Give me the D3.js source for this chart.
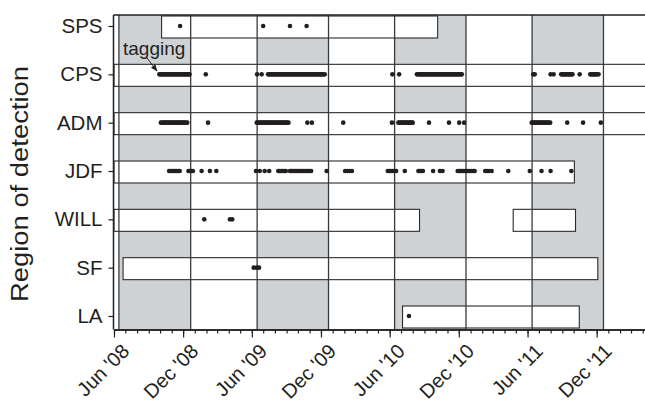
<!DOCTYPE html>
<html>
<head>
<meta charset="utf-8">
<script src="https://cdn.jsdelivr.net/npm/d3@7"></script>
<style>
body { margin: 0; background: #fff; }
svg text { font-family: "Liberation Sans", Arial, Helvetica, sans-serif; fill: #231f20; }
</style>
</head>
<body>
<svg width="645" height="403"></svg>
<script>
var regions = ["SPS", "CPS", "ADM", "JDF", "WILL", "SF", "LA"]

var xTickDates = ["2008-06-01", "2008-12-01", "2009-06-01", "2009-12-01",
    "2010-06-01", "2010-12-01", "2011-06-01", "2011-12-01"]
var xTickLabels = ["Jun '08", "Dec '08", "Jun '09", "Dec '09",
    "Jun '10", "Dec '10", "Jun '11", "Dec '11"]

// grey periods (Jun - Dec)
var shaded = [["2008-06-14", "2008-12-21"], ["2009-06-15", "2009-12-21"],
    ["2010-06-14", "2010-12-20"], ["2011-06-13", "2011-12-19"]]

// receiver coverage per region
var boxes = [
    ["SPS", "2008-10-05", "2010-10-06"],
    ["CPS", "2008-06-01", "2012-06-01"],
    ["ADM", "2008-06-01", "2012-06-01"],
    ["JDF", "2008-06-01", "2011-10-03"],
    ["WILL", "2008-06-01", "2010-08-19"],
    ["WILL", "2011-04-24", "2011-10-06"],
    ["SF", "2008-06-25", "2011-12-04"],
    ["LA", "2010-07-05", "2011-10-16"]
]

// detections: "year-month day day ..."
var detSPS = ["2008-11 23", "2009-07 1", "2009-09 10", "2009-10 24"]

var detCPS = ["2008-09 29", "2008-10 2 5 8 11 14 17 20 23 26 29",
    "2008-11 1 4 7 10 13 16 19 22 25 28", "2008-12 1 4 7 10 13 16 18",
    "2009-01 30",
    "2009-06 15 27", "2009-07 14 17 20 23 26 29",
    "2009-08 1 4 7 10 13 16 19 22 25 28 31", "2009-09 3 6 9 12 15 18 21 24 27 30",
    "2009-10 3 6 9 12 15 18 21 24 27 30", "2009-11 2 5 8 11 14 17 20 23 26 29",
    "2009-12 2 5 8 11",
    "2010-06 8 26", "2010-08 12 15 18 21 24 27 30",
    "2010-09 2 5 8 11 14 17 20 23 26 29", "2010-10 2 5 8 11 14 17 20 23 26 29",
    "2010-11 1 4 7 10 13 16 19 22 25 28", "2010-12 1 4 7 9",
    "2011-06 16 20", "2011-08 1 9 29", "2011-09 1 4 7 10 13 16 19 22 25 28",
    "2011-10 17", "2011-11 14 17 20 23 26 29", "2011-12 2 6"]

var detADM = ["2008-10 3 6 9 12 15 18 21 24 27 30",
    "2008-11 2 5 8 11 14 17 20 23 26 29", "2008-12 2 5 8 12",
    "2009-02 5",
    "2009-06 14 17 20 23 26 29", "2009-07 2 5 8 11 14 17 20 23 26 29",
    "2009-08 1 4 7 10 13 16 19 22 25 28 31", "2009-09 3 6",
    "2009-10 26", "2009-11 7", "2010-01 29",
    "2010-06 7 24 27 30", "2010-07 3 6 9 12 15 18 21 24 27 30", "2010-08 1",
    "2010-09 13", "2010-11 5", "2010-12 2 15",
    "2011-06 12 15 18 21 24 27 30", "2011-07 3 6 9 12 15 18 21 24 27 31",
    "2011-09 14", "2011-10 26", "2011-12 12"]

var detJDF = ["2008-10 25 29", "2008-11 2 6 10 14 18 22", "2008-12 15 19 23 27",
    "2009-01 19", "2009-02 10 27",
    "2009-06 12 22", "2009-07 5 17", "2009-08 10 14 18 22 26 30",
    "2009-09 10 14 18 22 26 30", "2009-10 4 8 12 16 20 24 28", "2009-11 1 5",
    "2009-12 16", "2010-02 3 9 15 21",
    "2010-05 27 31", "2010-06 4 9 14 18", "2010-07 11", "2010-08 16 20 24 28",
    "2010-09 24", "2010-10 12 19",
    "2010-11 28", "2010-12 2 6 10 14 18 22 26 30", "2011-01 4 8 12",
    "2011-02 9 14 19 26", "2011-04 11",
    "2011-06 7", "2011-07 8", "2011-08 1", "2011-09 25"]

var detWILL = ["2009-01 26", "2009-04 4 10"]
var detSF = ["2009-06 6 14 20"]
var detLA = ["2010-07 22"]

var detections = {SPS: detSPS, CPS: detCPS, ADM: detADM, JDF: detJDF,
    WILL: detWILL, SF: detSF, LA: detLA}

var parse = d3.timeParse("%Y-%m-%d")

// turn the month strings into [region, date] pairs
var dots = []
regions.forEach(function (r) {
    detections[r].forEach(function (s) {
        var parts = s.split(" ")
        parts.slice(1).forEach(function (day) {
            dots.push([r, parse(parts[0] + "-" + day)])
        })
    })
})

var x = d3.scaleTime().domain([parse("2008-06-01"), parse("2012-04-07")]).range([114, 645]),
    y = d3.scalePoint().domain(regions).range([26, 316])

// (not "top": that name is taken by window.top)
var yTop = 15, yBottom = 329.5, ink = "#231f20"

var svg = d3.select("svg")

// shaded periods
svg.selectAll("rect.shade").data(shaded).enter().append("rect")
    .attr("class", "shade")
    .attr("x", d => x(parse(d[0]))).attr("y", yTop)
    .attr("width", d => x(parse(d[1])) - x(parse(d[0])))
    .attr("height", yBottom - yTop)
    .attr("fill", "#cfd2d5")

// coverage boxes
svg.selectAll("rect.box").data(boxes).enter().append("rect")
    .attr("class", "box")
    .attr("x", d => x(parse(d[1]))).attr("y", d => y(d[0]) - 10)
    .attr("width", d => x(parse(d[2])) - x(parse(d[1])))
    .attr("height", 22)
    .attr("fill", "#fff").attr("stroke", "#2b2b2b").attr("stroke-width", 1.1)

// edges of the shaded periods, drawn over the boxes
var edges = []
shaded.forEach(d => edges.push(d[0], d[1]))
svg.selectAll("line.edge").data(edges).enter().append("line")
    .attr("class", "edge")
    .attr("x1", d => x(parse(d))).attr("x2", d => x(parse(d)))
    .attr("y1", yTop).attr("y2", yBottom)
    .attr("stroke", "#3a3a3a").attr("stroke-width", 1.3)

// frame top + left
svg.append("line").attr("x1", 113.5).attr("x2", 645).attr("y1", yTop).attr("y2", yTop)
    .attr("stroke", ink).attr("stroke-width", 1.3)
svg.append("line").attr("x1", 113.5).attr("x2", 113.5).attr("y1", yTop).attr("y2", yBottom)
    .attr("stroke", ink).attr("stroke-width", 1.5)

// detections
svg.selectAll("circle").data(dots).enter().append("circle")
    .attr("cx", d => x(d[1])).attr("cy", d => y(d[0]))
    .attr("r", 2.3).attr("fill", ink)

// x axis: monthly minor ticks, labelled major ticks
var gx = svg.append("g").attr("transform", "translate(0," + yBottom + ")")
gx.call(d3.axisBottom(x).ticks(d3.timeMonth.every(1)).tickSize(4)
    .tickSizeOuter(0).tickFormat(""))
gx.append("g").call(d3.axisBottom(x).tickValues(xTickDates.map(parse))
    .tickSize(8).tickSizeOuter(0).tickFormat((d, i) => xTickLabels[i]))
gx.selectAll("path.domain").attr("stroke", ink).attr("stroke-width", 1.5)
gx.selectAll("line").attr("stroke", ink).attr("stroke-width", 1.2)
gx.selectAll("text")
    .attr("x", 0).attr("y", 0).attr("dy", 0)
    .attr("transform", "translate(16,23) rotate(-45)")
    .style("text-anchor", "end").style("font-size", "20px").attr("fill", ink)

// y axis
var gy = svg.append("g").attr("transform", "translate(113.5,0)")
gy.call(d3.axisLeft(y).tickSize(5).tickPadding(6).tickSizeOuter(0))
gy.select("path.domain").remove()
gy.selectAll("line").attr("stroke", ink).attr("stroke-width", 1.2)
gy.selectAll("text").style("font-size", "20.5px").attr("fill", ink)

// axis title
svg.append("text")
    .attr("transform", "translate(28,184) rotate(-90)")
    .style("text-anchor", "middle").style("font-size", "23px")
    .attr("textLength", 236).attr("lengthAdjust", "spacingAndGlyphs")
    .text("Region of detection")

// tagging note
svg.append("defs").append("marker")
    .attr("id", "head").attr("viewBox", "0 0 10 10")
    .attr("refX", 9).attr("refY", 5)
    .attr("markerWidth", 7).attr("markerHeight", 7)
    .attr("orient", "auto")
    .append("path").attr("d", "M0,1 L10,5 L0,9 z").attr("fill", ink)

svg.append("text").attr("x", 123).attr("y", 55)
    .style("font-size", "19px").text("tagging")
svg.append("line")
    .attr("x1", 147).attr("y1", 58).attr("x2", 157).attr("y2", 71)
    .attr("stroke", ink).attr("stroke-width", 1)
    .attr("marker-end", "url(#head)")
</script>
</body>
</html>
